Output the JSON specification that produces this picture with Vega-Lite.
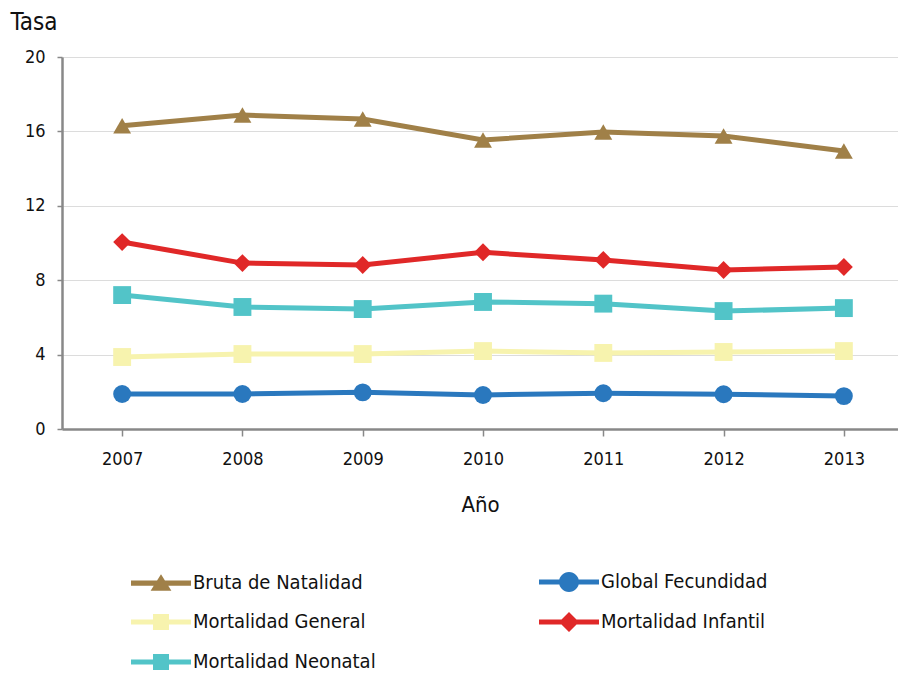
{
  "$schema": "https://vega.github.io/schema/vega-lite/v6.json",
  "width": 836,
  "height": 372,
  "padding": {"left": 10, "top": 10, "right": 0, "bottom": 0},
  "background": "white",
  "config": {
    "view": {"stroke": null},
    "font": "DejaVu Sans Condensed",
    "axis": {"labelFont": "DejaVu Sans Condensed", "titleFont": "DejaVu Sans Condensed", "labelColor": "#111", "titleColor": "#111", "titleFontWeight": "normal"},
    "legend": {"labelFont": "DejaVu Sans Condensed"}
  },
  "data": {
    "values": [
      {"year": 2007, "series": "Bruta de Natalidad", "value": 16.3},
      {"year": 2008, "series": "Bruta de Natalidad", "value": 16.88},
      {"year": 2009, "series": "Bruta de Natalidad", "value": 16.67},
      {"year": 2010, "series": "Bruta de Natalidad", "value": 15.54},
      {"year": 2011, "series": "Bruta de Natalidad", "value": 15.97},
      {"year": 2012, "series": "Bruta de Natalidad", "value": 15.75},
      {"year": 2013, "series": "Bruta de Natalidad", "value": 14.95},
      {"year": 2007, "series": "Global Fecundidad", "value": 1.88},
      {"year": 2008, "series": "Global Fecundidad", "value": 1.88},
      {"year": 2009, "series": "Global Fecundidad", "value": 1.97},
      {"year": 2010, "series": "Global Fecundidad", "value": 1.83},
      {"year": 2011, "series": "Global Fecundidad", "value": 1.92},
      {"year": 2012, "series": "Global Fecundidad", "value": 1.87},
      {"year": 2013, "series": "Global Fecundidad", "value": 1.77},
      {"year": 2007, "series": "Mortalidad General", "value": 3.87},
      {"year": 2008, "series": "Mortalidad General", "value": 4.03},
      {"year": 2009, "series": "Mortalidad General", "value": 4.03},
      {"year": 2010, "series": "Mortalidad General", "value": 4.19},
      {"year": 2011, "series": "Mortalidad General", "value": 4.09},
      {"year": 2012, "series": "Mortalidad General", "value": 4.14},
      {"year": 2013, "series": "Mortalidad General", "value": 4.19},
      {"year": 2007, "series": "Mortalidad Infantil", "value": 10.05},
      {"year": 2008, "series": "Mortalidad Infantil", "value": 8.92},
      {"year": 2009, "series": "Mortalidad Infantil", "value": 8.82},
      {"year": 2010, "series": "Mortalidad Infantil", "value": 9.5},
      {"year": 2011, "series": "Mortalidad Infantil", "value": 9.09},
      {"year": 2012, "series": "Mortalidad Infantil", "value": 8.55},
      {"year": 2013, "series": "Mortalidad Infantil", "value": 8.71},
      {"year": 2007, "series": "Mortalidad Neonatal", "value": 7.2},
      {"year": 2008, "series": "Mortalidad Neonatal", "value": 6.56},
      {"year": 2009, "series": "Mortalidad Neonatal", "value": 6.45},
      {"year": 2010, "series": "Mortalidad Neonatal", "value": 6.83},
      {"year": 2011, "series": "Mortalidad Neonatal", "value": 6.74},
      {"year": 2012, "series": "Mortalidad Neonatal", "value": 6.34},
      {"year": 2013, "series": "Mortalidad Neonatal", "value": 6.5}
    ]
  },
  "encoding": {
    "x": {
      "field": "year", "type": "quantitative",
      "scale": {"domain": [2006.5, 2013.45], "nice": false, "zero": false},
      "axis": {
        "title": "Año", "titleFontSize": 22, "titlePadding": 26,
        "values": [2007, 2008, 2009, 2010, 2011, 2012, 2013], "format": "d",
        "grid": false, "domainColor": "#888", "domainWidth": 2.5,
        "tickColor": "#888", "tickSize": 7, "tickWidth": 1.5,
        "labelFontSize": 18, "labelPadding": 14
      }
    },
    "y": {
      "field": "value", "type": "quantitative",
      "scale": {"domain": [0, 20], "nice": false},
      "axis": {
        "title": "Tasa", "titleAngle": 0, "titleAlign": "left", "titleBaseline": "alphabetic",
        "titleX": -52, "titleY": -28, "titleFontSize": 24,
        "values": [0, 4, 8, 12, 16, 20],
        "grid": true, "gridColor": "#dcdcdc", "gridWidth": 1,
        "domainColor": "#888", "domainWidth": 2.5,
        "tickColor": "#888", "tickSize": 5, "tickWidth": 1.5,
        "labelFontSize": 18, "labelPadding": 12
      }
    }
  },
  "layer": [
    {
      "mark": {"type": "line", "strokeWidth": 5},
      "encoding": {
        "color": {
          "field": "series", "type": "nominal",
          "scale": {
            "domain": ["Bruta de Natalidad", "Global Fecundidad", "Mortalidad General", "Mortalidad Infantil", "Mortalidad Neonatal"],
            "range": ["#A08048", "#2A78BE", "#F7F3AE", "#E02828", "#52C4C8"]
          },
          "legend": null
        }
      }
    },
    {
      "mark": {"type": "point", "filled": true, "opacity": 1, "size": 320},
      "encoding": {
        "color": {
          "field": "series", "type": "nominal",
          "scale": {
            "domain": ["Bruta de Natalidad", "Global Fecundidad", "Mortalidad General", "Mortalidad Infantil", "Mortalidad Neonatal"],
            "range": ["#A08048", "#2A78BE", "#F7F3AE", "#E02828", "#52C4C8"]
          },
          "legend": null
        },
        "shape": {
          "field": "series", "type": "nominal",
          "scale": {
            "domain": ["Bruta de Natalidad", "Global Fecundidad", "Mortalidad General", "Mortalidad Infantil", "Mortalidad Neonatal"],
            "range": ["triangle-up", "circle", "square", "diamond", "square"]
          },
          "legend": null
        }
      }
    },
    {
      "mark": {"type": "point", "filled": true, "opacity": 0},
      "encoding": {
        "color": {
          "field": "series", "type": "nominal",
          "scale": {
            "domain": ["Bruta de Natalidad", "Global Fecundidad", "Mortalidad General", "Mortalidad Infantil", "Mortalidad Neonatal"],
            "range": ["#A08048", "#2A78BE", "#F7F3AE", "#E02828", "#52C4C8"]
          },
          "legend": {
            "title": null, "orient": "none", "legendX": 78, "legendY": 504,
            "direction": "horizontal",
            "columns": 2, "columnPadding": 160, "rowPadding": 6,
            "symbolSize": 1600, "symbolOpacity": 1, "labelFontSize": 20, "labelOffset": 11, "labelColor": "#111",
            "labelLimit": 400
          }
        },
        "shape": {
          "field": "series", "type": "nominal",
          "scale": {
            "domain": ["Bruta de Natalidad", "Global Fecundidad", "Mortalidad General", "Mortalidad Infantil", "Mortalidad Neonatal"],
            "range": [
              "M-1.5,-0.13H1.5V0.13H-1.5Z M0,-0.45L0.52,0.38L-0.52,0.38Z",
              "M-1.5,-0.13H1.5V0.13H-1.5Z M-0.5,0A0.5,0.5 0 1,1 0.5,0A0.5,0.5 0 1,1 -0.5,0Z",
              "M-1.5,-0.13H1.5V0.13H-1.5Z M-0.4,-0.4H0.4V0.4H-0.4Z",
              "M-1.5,-0.13H1.5V0.13H-1.5Z M0,-0.5L0.5,0L0,0.5L-0.5,0Z",
              "M-1.5,-0.13H1.5V0.13H-1.5Z M-0.4,-0.4H0.4V0.4H-0.4Z"
            ]
          },
          "legend": {
            "title": null, "orient": "none", "legendX": 78, "legendY": 504,
            "direction": "horizontal",
            "columns": 2, "columnPadding": 160, "rowPadding": 6,
            "symbolSize": 1600, "symbolOpacity": 1, "labelFontSize": 20, "labelOffset": 11, "labelColor": "#111",
            "labelLimit": 400
          }
        }
      }
    }
  ],
  "resolve": {"scale": {"shape": "independent", "color": "independent"}}
}
